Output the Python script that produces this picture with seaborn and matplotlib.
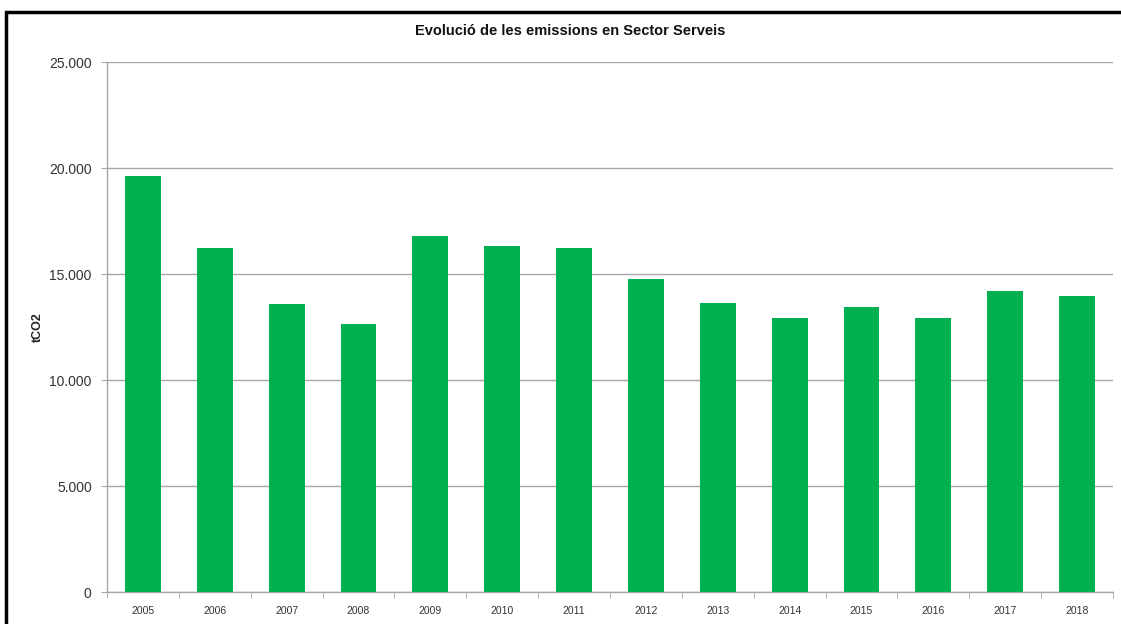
import matplotlib
matplotlib.use("Agg")
import matplotlib.pyplot as plt
import seaborn as sns
import pandas as pd
from matplotlib.ticker import FuncFormatter, FixedLocator
from matplotlib.patches import Rectangle

years = ["2005", "2006", "2007", "2008", "2009", "2010", "2011",
         "2012", "2013", "2014", "2015", "2016", "2017", "2018"]
emissions = [19620, 16250, 13590, 12660, 16770, 16320, 16250,
             14780, 13630, 12910, 13430, 12910, 14200, 13940]
yticks = [0, 5000, 10000, 15000, 20000, 25000]

sns.set_style("white")
plt.rcParams['font.family'] = ['Liberation Sans', 'DejaVu Sans']

W, H = 1121, 624
fig = plt.figure(figsize=(W / 100, H / 100), dpi=100)
ax = fig.add_axes([107 / W, 1 - 592 / H, (1113 - 107) / W, (592 - 62) / H])

df = pd.DataFrame({"year": years, "value": emissions})
sns.barplot(data=df, x="year", y="value", color="#00AF50", saturation=1,
            width=0.5, ax=ax, zorder=3, edgecolor="none")

ax.set_xlim(-0.5, len(years) - 0.5)
ax.set_ylim(0, 25000)
ax.set_yticks(yticks)
ax.yaxis.set_major_formatter(FuncFormatter(lambda v, p: f"{int(v):,}".replace(",", ".")))
ax.grid(axis="y", color="#a6a6a6", linewidth=1, zorder=0)
ax.grid(axis="x", visible=False)

for s in ["top", "right"]:
    ax.spines[s].set_visible(False)
for s in ["left", "bottom"]:
    ax.spines[s].set_color("#a6a6a6")
    ax.spines[s].set_linewidth(1)

ax.tick_params(axis="y", which="major", length=4, color="#a6a6a6", labelsize=10,
               labelcolor="#333333", pad=7, left=True)
ax.tick_params(axis="x", which="major", length=0, labelsize=7.5, labelcolor="#333333", pad=10)
ax.xaxis.set_minor_locator(FixedLocator([i - 0.5 for i in range(len(years) + 1)]))
ax.tick_params(axis="x", which="minor", length=4, color="#a6a6a6", bottom=True)

ax.set_xlabel("")
ax.set_ylabel("tCO2", fontsize=9, fontweight="bold", color="#222222")
ax.yaxis.set_label_coords(-63 / (1113 - 107), 0.5)

fig.text(570 / W, 1 - 31 / H, "Evolució de les emissions en Sector Serveis",
         ha="center", va="center", fontsize=10.5, fontweight="bold", color="#111111")

frame = Rectangle((6 / W, -0.2), 1.5, 1.2 - 12 / H, transform=fig.transFigure,
                  fill=False, edgecolor="black", linewidth=2.5, clip_on=False)
fig.patches.append(frame)

fig.savefig("out.png", dpi=100)
